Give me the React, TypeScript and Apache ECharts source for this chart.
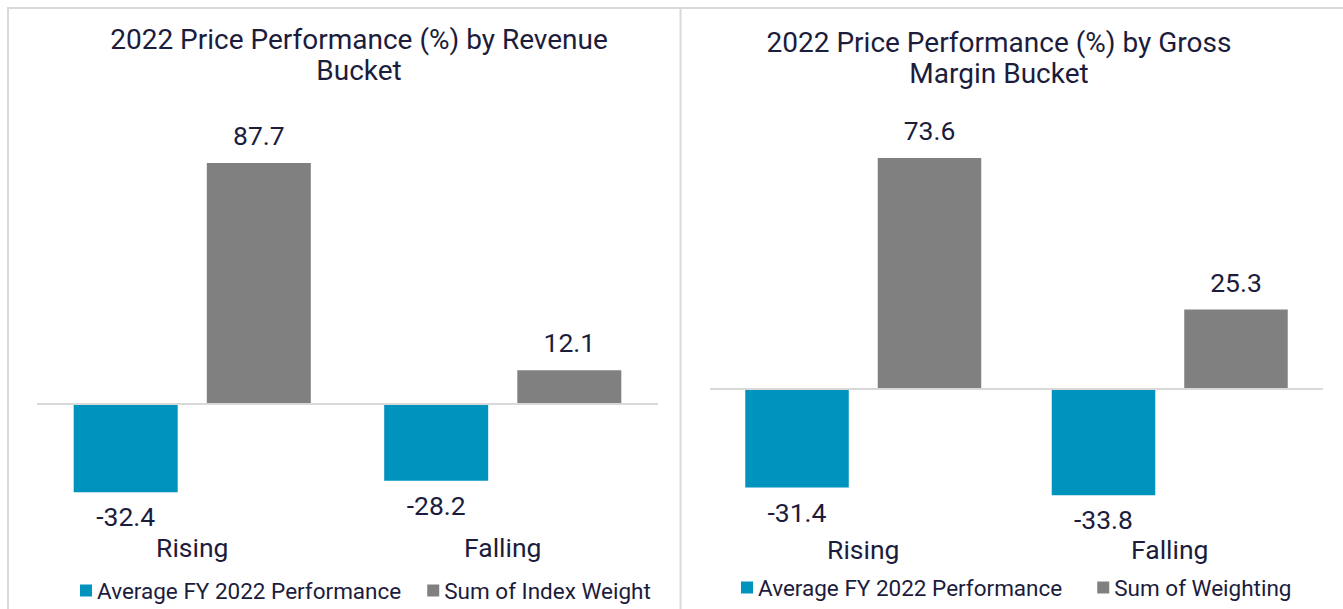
import React, { useEffect, useRef } from "react";
import * as echarts from "echarts";

const categories = ["Rising", "Falling"];
const revenuePerformance = [-32.4, -28.2];
const revenueIndexWeight = [87.7, 12.1];
const marginPerformance = [-31.4, -33.8];
const marginWeighting = [73.6, 25.3];

const leftTitle = "2022 Price Performance (%) by Revenue\nBucket";
const rightTitle = "2022 Price Performance (%) by Gross\nMargin Bucket";
const seriesPerf = "Average FY 2022 Performance";
const seriesIndexWeight = "Sum of Index Weight";
const seriesWeighting = "Sum of Weighting";

const BLUE = "#0093be";
const GRAY = "#808080";
const TEXT = "#1c1c3c";
const LINE = "#d9d9d9";
const FONT = "Roboto, 'Noto Sans', sans-serif";

export default function App() {
  const ref = useRef<HTMLDivElement>(null);
  useEffect(() => {
    document.body.style.margin = "0";
    const chart = echarts.init(ref.current!, null, { renderer: "svg" });
    const barLabel = (pos: string, dist: number) => ({
      show: true,
      position: pos,
      distance: dist,
      fontSize: 26.5,
      color: TEXT,
      fontFamily: FONT,
      formatter: (p: any) => p.value.toFixed(1),
    });
    const zeroLine = {
      silent: true,
      symbol: "none",
      label: { show: false },
      lineStyle: { color: LINE, width: 2, type: "solid" },
      data: [{ yAxis: 0 }],
    };
    const xAxisCommon = {
      type: "category",
      axisLine: { show: false, onZero: false },
      axisTick: { show: false },
      axisLabel: { fontSize: 26.5, color: TEXT, fontFamily: FONT, margin: 21 },
    };
    const titleStyle = { fontSize: 28, fontWeight: "normal", color: TEXT, lineHeight: 31, fontFamily: FONT };
    const legendText = { fontSize: 22.5, color: TEXT, fontFamily: FONT };
    chart.setOption({
      animation: false,
      textStyle: { fontFamily: FONT },
      title: [
        { text: leftTitle, left: 359, top: 24, padding: 0, textAlign: "center", textStyle: titleStyle },
        { text: rightTitle, left: 999, top: 27, padding: 0, textAlign: "center", textStyle: titleStyle },
      ],
      legend: [
        {
          data: [seriesPerf, seriesIndexWeight],
          left: 80,
          top: 579,
          padding: 0,
          itemWidth: 12,
          itemHeight: 12,
          itemGap: 26,
          icon: "rect",
          textStyle: legendText,
        },
        {
          data: [seriesPerf, seriesWeighting],
          left: 741,
          top: 576,
          padding: 0,
          itemWidth: 12,
          itemHeight: 12,
          itemGap: 35,
          icon: "rect",
          textStyle: legendText,
        },
      ],
      grid: [
        { left: 37, right: 685, top: 129.3, bottom: 95.8 },
        { left: 710, right: 20, top: 137.9, bottom: 94.4 },
      ],
      xAxis: [
        { ...xAxisCommon, gridIndex: 0, data: categories },
        { ...xAxisCommon, gridIndex: 1, data: categories },
      ],
      yAxis: [
        { type: "value", gridIndex: 0, min: -40, max: 100, show: false, splitLine: { show: false } },
        { type: "value", gridIndex: 1, min: -40, max: 80, show: false, splitLine: { show: false } },
      ],
      series: [
        {
          name: seriesPerf,
          type: "bar",
          xAxisIndex: 0,
          yAxisIndex: 0,
          data: revenuePerformance,
          barWidth: 104,
          barGap: "28%",
          itemStyle: { color: BLUE },
          label: barLabel("bottom", 11),
        },
        {
          name: seriesIndexWeight,
          type: "bar",
          xAxisIndex: 0,
          yAxisIndex: 0,
          data: revenueIndexWeight,
          barWidth: 104,
          barGap: "28%",
          itemStyle: { color: GRAY },
          label: barLabel("top", 14),
          markLine: zeroLine,
        },
        {
          name: seriesPerf,
          type: "bar",
          xAxisIndex: 1,
          yAxisIndex: 1,
          data: marginPerformance,
          barWidth: 103.5,
          barGap: "28%",
          itemStyle: { color: BLUE },
          label: barLabel("bottom", 11),
        },
        {
          name: seriesWeighting,
          type: "bar",
          xAxisIndex: 1,
          yAxisIndex: 1,
          data: marginWeighting,
          barWidth: 103.5,
          barGap: "28%",
          itemStyle: { color: GRAY },
          label: barLabel("top", 14),
          markLine: zeroLine,
        },
      ],
      graphic: [
        { type: "line", silent: true, shape: { x1: 7, y1: 8, x2: 1343, y2: 8 }, style: { stroke: LINE, lineWidth: 2 } },
        { type: "line", silent: true, shape: { x1: 8, y1: 7, x2: 8, y2: 609 }, style: { stroke: LINE, lineWidth: 2 } },
        { type: "line", silent: true, shape: { x1: 680.5, y1: 7, x2: 680.5, y2: 609 }, style: { stroke: LINE, lineWidth: 2 } },
      ],
    });
    return () => chart.dispose();
  }, []);
  return <div ref={ref} style={{ width: 1343, height: 609, position: "absolute", left: 0, top: 0 }} />;
}
